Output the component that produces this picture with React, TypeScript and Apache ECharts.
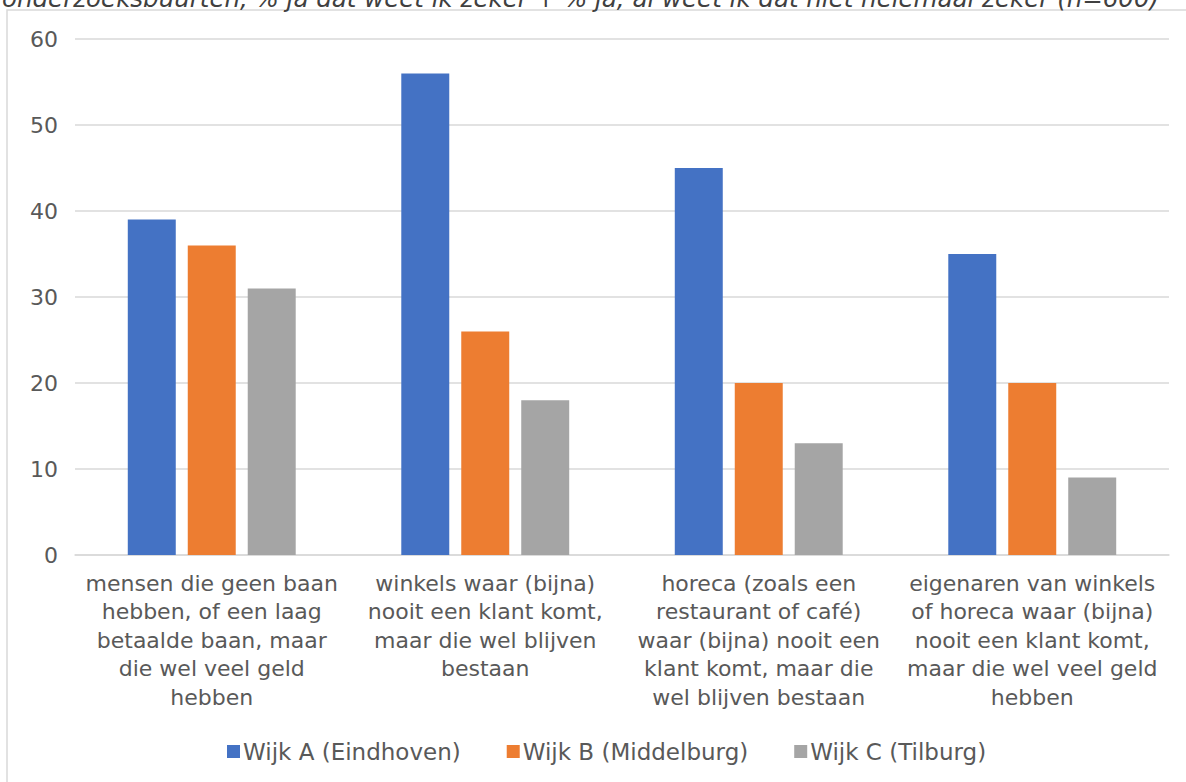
import React, { useEffect, useRef } from "react";
import * as echarts from "echarts";

const categories = [
  "mensen die geen baan\nhebben, of een laag\nbetaalde baan, maar\ndie wel veel geld\nhebben",
  "winkels waar (bijna)\nnooit een klant komt,\nmaar die wel blijven\nbestaan",
  "horeca (zoals een\nrestaurant of café)\nwaar (bijna) nooit een\nklant komt, maar die\nwel blijven bestaan",
  "eigenaren van winkels\nof horeca waar (bijna)\nnooit een klant komt,\nmaar die wel veel geld\nhebben",
];
const seriesNames = ["Wijk A (Eindhoven)", "Wijk B (Middelburg)", "Wijk C (Tilburg)"];
const wijkA = [39, 56, 45, 35];
const wijkB = [36, 26, 20, 20];
const wijkC = [31, 18, 13, 9];
const colors = ["#4472C4", "#ED7D31", "#A5A5A5"];
const titleText =
  "onderzoeksbuurten, % ja dat weet ik zeker + % ja, al weet ik dat niet helemaal zeker (n=600)";

const FONT = "'DejaVu Sans', sans-serif";

export default function App() {
  const ref = useRef<HTMLDivElement>(null);
  useEffect(() => {
    if (!ref.current) return;
    const chart = echarts.init(ref.current, null, { renderer: "svg" });
    const values = [wijkA, wijkB, wijkC];
    chart.setOption({
      animation: false,
      backgroundColor: "#ffffff",
      textStyle: { fontFamily: FONT },
      graphic: [
        {
          type: "rect",
          shape: { x: 7, y: 10, width: 1300, height: 900 },
          style: { fill: "none", stroke: "#d9d9d9", lineWidth: 1.5 },
          silent: true,
        },
        {
          type: "text",
          x: 2,
          y: -2,
          style: {
            text: titleText,
            font: "italic 24.5px 'DejaVu Sans', sans-serif",
            fill: "#404040",
            verticalAlign: "middle",
          },
          silent: true,
        },
      ],
      grid: { left: 75, right: 17, top: 39, bottom: 227, containLabel: false },
      legend: {
        data: seriesNames,
        top: 735,
        left: 222,
        icon: "rect",
        itemWidth: 13,
        itemHeight: 13,
        itemGap: 46,
        textStyle: { fontFamily: FONT, fontSize: 23, color: "#595959", padding: [0, 0, 0, -2] },
      },
      xAxis: {
        type: "category",
        data: categories,
        axisLine: { show: true, lineStyle: { color: "#d9d9d9", width: 1.5 } },
        axisTick: { show: false },
        axisLabel: {
          interval: 0,
          margin: 14,
          fontFamily: FONT,
          fontSize: 22,
          lineHeight: 28.5,
          color: "#595959",
          align: "center",
        },
      },
      yAxis: {
        type: "value",
        min: 0,
        max: 60,
        interval: 10,
        axisLine: { show: false },
        axisTick: { show: false },
        splitLine: { lineStyle: { color: "#d9d9d9", width: 1.5 } },
        axisLabel: { margin: 17, fontFamily: FONT, fontSize: 22, color: "#595959" },
      },
      series: values.map((v, i) => ({
        name: seriesNames[i],
        type: "bar",
        data: v,
        barGap: "25%",
        barCategoryGap: "38.6%",
        itemStyle: { color: colors[i] },
      })),
    });
    return () => chart.dispose();
  }, []);
  return (
    <div
      ref={ref}
      style={{ position: "absolute", left: 0, top: 0, width: 1186, height: 782 }}
    />
  );
}
